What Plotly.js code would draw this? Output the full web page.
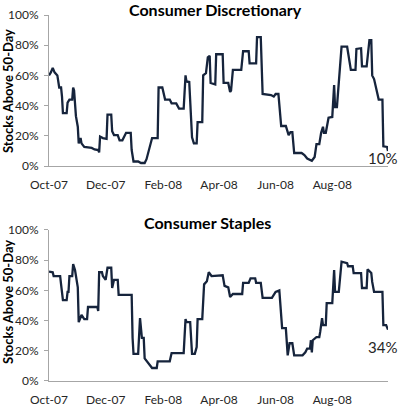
<!DOCTYPE html>
<html>
<head>
<meta charset="utf-8">
<script src="https://cdn.plot.ly/plotly-3.0.1.min.js"></script>
<style>
  html, body { margin: 0; padding: 0; background: #fff; }
  #chart { width: 400px; height: 409px; }
</style>
</head>
<body>
<div id="chart"></div>
<script>
// Share of stocks trading above their 50-day moving average, by sector
const discretionaryDates = [
  '2007-10-01','2007-10-03','2007-10-05','2007-10-07','2007-10-10','2007-10-11','2007-10-12','2007-10-14',
  '2007-10-15','2007-10-16','2007-10-20','2007-10-21','2007-10-23','2007-10-26','2007-10-27','2007-10-28',
  '2007-10-30','2007-11-01','2007-11-02','2007-11-04','2007-11-05','2007-11-08','2007-11-12','2007-11-16',
  '2007-11-19','2007-11-23','2007-11-24','2007-11-25','2007-11-28','2007-12-02','2007-12-03','2007-12-07',
  '2007-12-08','2007-12-10','2007-12-14','2007-12-16','2007-12-19','2007-12-23','2007-12-28','2007-12-29',
  '2007-12-31','2008-01-05','2008-01-08','2008-01-12','2008-01-14','2008-01-15','2008-01-20','2008-01-26',
  '2008-01-27','2008-01-31','2008-02-03','2008-02-08','2008-02-10','2008-02-15','2008-02-18','2008-02-23',
  '2008-02-25','2008-02-26','2008-02-29','2008-03-03','2008-03-05','2008-03-08','2008-03-09','2008-03-14',
  '2008-03-15','2008-03-18','2008-03-20','2008-03-22','2008-03-23','2008-03-28','2008-03-29','2008-04-05',
  '2008-04-06','2008-04-11','2008-04-13','2008-04-14','2008-04-16','2008-04-25','2008-04-27','2008-05-03',
  '2008-05-04','2008-05-11','2008-05-12','2008-05-16','2008-05-18','2008-05-27','2008-05-30','2008-06-01',
  '2008-06-04','2008-06-07','2008-06-12','2008-06-15','2008-06-17','2008-06-19','2008-06-21','2008-06-29',
  '2008-07-02','2008-07-05','2008-07-08','2008-07-10','2008-07-13','2008-07-15','2008-07-18','2008-07-20',
  '2008-07-22','2008-07-23','2008-07-25','2008-07-28','2008-08-01','2008-08-03','2008-08-04','2008-08-06',
  '2008-08-11','2008-08-17','2008-08-21','2008-08-26','2008-08-27','2008-09-01','2008-09-02','2008-09-07',
  '2008-09-10','2008-09-12','2008-09-13','2008-09-15','2008-09-20','2008-09-24','2008-09-25','2008-09-29',
  '2008-09-30'
];
const discretionaryValues = [
  60, 62, 65, 62, 60, 57, 52, 52,
  46, 35, 35, 42, 44, 44, 52, 50,
  33, 26, 15, 18.5, 15, 12.6, 12.5, 12,
  11, 10.6, 9, 19.5, 18.5, 18, 34, 34,
  23, 20.5, 20.5, 17, 17, 22, 22, 10.6,
  3, 3, 2, 2, 4.5, 7, 18.5, 18.5,
  52, 52, 44, 44, 41.5, 41.5, 38, 38,
  60, 56, 55.6, 19, 15, 15, 29, 29,
  60, 61.5, 72, 73, 55, 54, 74, 74,
  55, 55, 49, 50, 63.6, 63.6, 76, 76,
  68, 68, 85.4, 85.4, 47.7, 47, 46, 47.7,
  47.7, 26.5, 26.5, 20.5, 22.5, 22.5, 8.6, 8.6,
  7.3, 5, 4, 3.5, 6, 14.5, 14.5, 22,
  26, 22, 22, 32, 32.5, 53.6, 39, 39,
  79, 79, 63.6, 63.6, 77.5, 78, 66, 66,
  83.4, 83.4, 60, 57.6, 44, 44, 13, 12.6,
  10
];

const staplesDates = [
  '2007-10-01','2007-10-05','2007-10-06','2007-10-13','2007-10-14','2007-10-16','2007-10-20','2007-10-21',
  '2007-10-22','2007-10-23','2007-10-26','2007-10-27','2007-10-29','2007-10-31','2007-11-01','2007-11-02',
  '2007-11-05','2007-11-08','2007-11-11','2007-11-12','2007-11-22','2007-11-23','2007-11-24','2007-11-27',
  '2007-11-28','2007-12-01','2007-12-03','2007-12-07','2007-12-08','2007-12-10','2007-12-14','2007-12-15',
  '2007-12-29','2007-12-30','2007-12-31','2008-01-05','2008-01-07','2008-01-09','2008-01-11','2008-01-12',
  '2008-01-15','2008-01-20','2008-01-25','2008-01-26','2008-02-08','2008-02-10','2008-02-23','2008-02-25',
  '2008-02-26','2008-03-01','2008-03-03','2008-03-06','2008-03-08','2008-03-09','2008-03-14','2008-03-16',
  '2008-03-19','2008-03-21','2008-03-24','2008-04-05','2008-04-07','2008-04-11','2008-04-13','2008-04-16',
  '2008-04-26','2008-04-27','2008-05-03','2008-05-05','2008-05-10','2008-05-11','2008-05-16','2008-05-18',
  '2008-05-28','2008-06-01','2008-06-05','2008-06-08','2008-06-12','2008-06-14','2008-06-16','2008-06-19',
  '2008-06-21','2008-06-30','2008-07-03','2008-07-05','2008-07-08','2008-07-09','2008-07-10','2008-07-11',
  '2008-07-15','2008-07-18','2008-07-19','2008-07-21','2008-07-22','2008-07-25','2008-07-26','2008-08-01',
  '2008-08-03','2008-08-04','2008-08-08','2008-08-11','2008-08-17','2008-08-18','2008-08-23','2008-08-24',
  '2008-09-01','2008-09-02','2008-09-07','2008-09-08','2008-09-12','2008-09-13','2008-09-15','2008-09-24',
  '2008-09-25','2008-09-28','2008-09-30'
];
const staplesValues = [
  72.4, 72, 69.5, 69.5, 64, 53.6, 53.6, 59,
  59, 69.5, 69.5, 77.5, 73.5, 67, 62, 39,
  43.7, 41, 41, 49, 49, 46.4, 72, 72,
  69.5, 67, 75, 75, 61.6, 67, 67, 57,
  57, 28.5, 18, 18, 41.7, 28.5, 28.5, 15,
  12.6, 8.6, 8.6, 13, 13, 18.5, 18.5, 41,
  39, 39, 18, 18, 22.5, 41, 41, 64,
  66, 72, 69.5, 70, 63, 62, 55.6, 57.6,
  57.6, 65, 65, 68, 68, 65, 65, 55,
  55, 59, 60, 35, 35, 17, 25, 25,
  17, 17, 19, 21.5, 21.5, 27, 19, 27,
  29, 29, 32.5, 41.7, 37, 37, 51.6, 51.6,
  73.5, 59, 59, 79, 78, 76, 76, 71.5,
  71.5, 61.6, 61.6, 74, 71.5, 65.6, 59, 59,
  37, 37, 34
];

const panelTitles = ['Consumer Discretionary', 'Consumer Staples'];
const yTitle = 'Stocks Above 50-Day';
const yTicks = [0, 20, 40, 60, 80, 100];
const xRange = ['2007-10-01', '2008-09-30'];

const lineColor = '#16243c';
const axisColor = '#a6a6a6';
const textFont = 'Lato, "Open Sans", "DejaVu Sans", sans-serif';

const traces = [
  { x: discretionaryDates, y: discretionaryValues, xaxis: 'x', yaxis: 'y',
    type: 'scatter', mode: 'lines', line: { color: lineColor, width: 2.3 }, hoverinfo: 'skip' },
  { x: staplesDates, y: staplesValues, xaxis: 'x2', yaxis: 'y2',
    type: 'scatter', mode: 'lines', line: { color: lineColor, width: 2.3 }, hoverinfo: 'skip' }
];

function xAxis(anchor) {
  return {
    type: 'date', anchor: anchor, range: xRange,
    tick0: '2007-10-01', dtick: 'M2', tickformat: '%b-%y',
    ticks: 'outside', ticklen: 8, tickcolor: 'rgba(0,0,0,0)',
    showline: true, linecolor: axisColor, linewidth: 1,
    showgrid: false, zeroline: false, fixedrange: true,
    tickfont: { family: textFont, size: 12, color: '#262626' }
  };
}
function yAxis(anchor, domain) {
  return {
    anchor: anchor, domain: domain, range: [0, 100],
    tickvals: yTicks, ticktext: yTicks.map(v => v + '%'),
    ticks: 'outside', ticklen: 4, tickcolor: axisColor,
    ticklabelstandoff: 3,
    showline: true, linecolor: axisColor, linewidth: 1,
    showgrid: false, zeroline: false, fixedrange: true,
    tickfont: { family: textFont, size: 12, color: '#262626' }
  };
}

const lastD = discretionaryValues.length - 1;
const lastS = staplesValues.length - 1;

const layout = {
  width: 400, height: 409,
  margin: { l: 49, r: 12, t: 15, b: 28 },
  paper_bgcolor: '#ffffff', plot_bgcolor: '#ffffff',
  showlegend: false,
  xaxis: xAxis('y'),
  yaxis: yAxis('x', [0.5874, 1]),
  xaxis2: xAxis('y2'),
  yaxis2: yAxis('x2', [0, 0.4126]),
  annotations: [
    { text: '<b>' + panelTitles[0] + '</b>', xref: 'paper', yref: 'paper', x: 0.49, y: 1.016,
      xanchor: 'center', yanchor: 'middle', showarrow: false,
      font: { family: textFont, size: 16, color: '#000' } },
    { text: '<b>' + panelTitles[1] + '</b>', xref: 'paper', yref: 'paper', x: 0.469, y: 0.4317,
      xanchor: 'center', yanchor: 'middle', showarrow: false,
      font: { family: textFont, size: 16, color: '#000' } },
    { text: '<b>' + yTitle + '</b>', xref: 'paper', yref: 'paper', x: -0.121, y: 0.792,
      xanchor: 'center', yanchor: 'middle', textangle: -90, showarrow: false,
      font: { family: textFont, size: 13, color: '#000' } },
    { text: '<b>' + yTitle + '</b>', xref: 'paper', yref: 'paper', x: -0.121, y: 0.216,
      xanchor: 'center', yanchor: 'middle', textangle: -90, showarrow: false,
      font: { family: textFont, size: 13, color: '#000' } },
    { text: Math.round(discretionaryValues[lastD]) + '%', xref: 'x', yref: 'y',
      x: discretionaryDates[lastD], y: discretionaryValues[lastD],
      xanchor: 'center', yanchor: 'middle', xshift: -6, yshift: -7, showarrow: false,
      font: { family: textFont, size: 15, color: '#262626' } },
    { text: Math.round(staplesValues[lastS]) + '%', xref: 'x2', yref: 'y2',
      x: staplesDates[lastS], y: staplesValues[lastS],
      xanchor: 'center', yanchor: 'middle', xshift: -6, yshift: -17, showarrow: false,
      font: { family: textFont, size: 15, color: '#262626' } }
  ]
};

Plotly.newPlot('chart', traces, layout, { displayModeBar: false, staticPlot: true });
</script>
</body>
</html>
